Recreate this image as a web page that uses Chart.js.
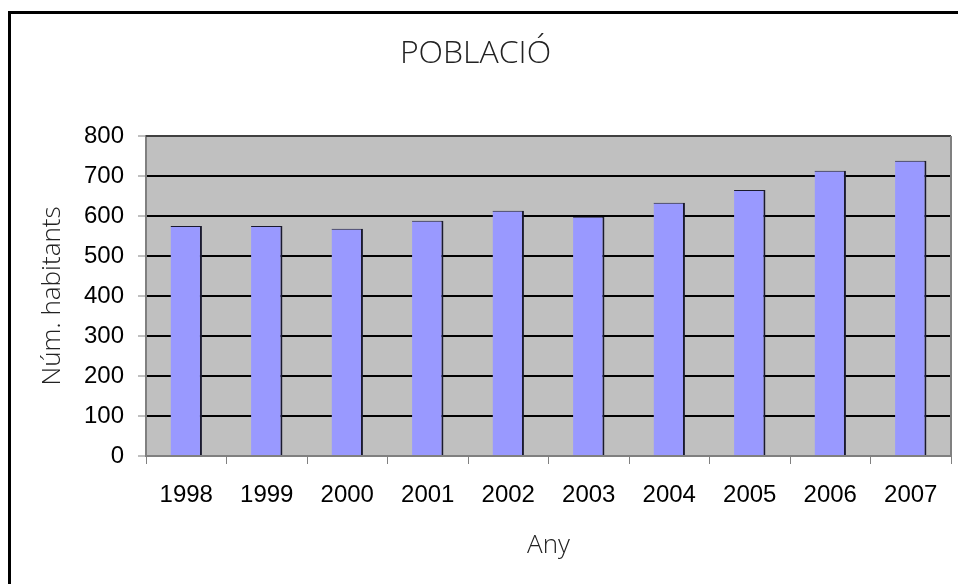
<!DOCTYPE html>
<html>
<head>
<meta charset="utf-8">
<script src="https://cdn.jsdelivr.net/npm/chart.js@4/dist/chart.umd.min.js"></script>
<style>
  html, body { margin: 0; padding: 0; background: #fff; overflow: hidden; }
  canvas { display: block; }
</style>
</head>
<body>
<canvas id="myChart" width="958" height="584"></canvas>
<script>
// dades
var anys = ['1998', '1999', '2000', '2001', '2002', '2003', '2004', '2005', '2006', '2007'];
var habitants = [575, 575, 568, 588, 613, 598, 633, 665, 713, 738];
var yTicks = [0, 100, 200, 300, 400, 500, 600, 700, 800];

var fonsGris = {
    id: 'fonsGris',
    beforeDraw: function (chart) {
        var c = chart.ctx, a = chart.chartArea;
        c.save();
        c.fillStyle = '#fff';
        c.fillRect(0, 0, chart.width, chart.height);
        // marc exterior
        c.strokeStyle = '#000';
        c.lineWidth = 3;
        c.strokeRect(9.5, 12.5, 1000, 1000);
        // area del grafic
        c.fillStyle = '#c0c0c0';
        c.fillRect(a.left, a.top, a.right - a.left, a.bottom - a.top);
        c.restore();
    },
    afterDatasetsDraw: function (chart) {
        var c = chart.ctx, a = chart.chartArea;
        c.save();
        c.strokeStyle = '#404040';
        c.lineWidth = 2;
        c.beginPath();
        c.moveTo(a.left, a.top);
        c.lineTo(a.right, a.top);
        c.stroke();
        c.strokeStyle = '#808080';
        c.beginPath();
        c.moveTo(a.right, a.top);
        c.lineTo(a.right, a.bottom);
        c.stroke();
        c.restore();
    }
};

var ctx = document.getElementById('myChart');
var myChart = new Chart(ctx, {
    type: 'bar',
    data: {
        labels: anys,
        datasets: [{
            label: 'Núm. habitants',
            data: habitants,
            backgroundColor: '#9999ff',
            borderColor: '#1a1a2e',
            borderWidth: { top: 1, right: 2, left: 0, bottom: 0 },
            borderSkipped: false,
            barPercentage: 0.39,
            categoryPercentage: 1
        }]
    },
    options: {
        responsive: false,
        animation: false,
        devicePixelRatio: 1,
        layout: { padding: { left: 0, right: 7, top: 0, bottom: 0 } },
        plugins: {
            legend: { display: false },
            tooltip: { enabled: false },
            title: {
                display: true,
                text: 'POBLACIÓ',
                color: '#222',
                font: { family: 'Open Sans', size: 32, weight: '300' },
                padding: { top: 35, bottom: 62.6 }
            }
        },
        scales: {
            x: {
                afterFit: function (s) { s.height = 128; },
                grid: { drawOnChartArea: false, color: '#808080', tickLength: 8, offset: true },
                border: { color: '#808080', width: 2 },
                ticks: { color: '#000', padding: 17, font: { family: 'Liberation Sans', size: 24 } },
                title: {
                    display: true,
                    text: 'Any',
                    color: '#222',
                    font: { family: 'Open Sans', size: 26, weight: '300' },
                    padding: { top: 0, bottom: 23 }
                }
            },
            y: {
                min: 0,
                max: 800,
                afterFit: function (s) { s.width = 146; },
                afterBuildTicks: function (s) { s.ticks = yTicks.map(function (v) { return { value: v }; }); },
                grid: {
                    color: function (c) { return c.tick && c.tick.value === 0 ? '#808080' : '#000'; },
                    lineWidth: 2,
                    tickColor: '#808080',
                    tickWidth: 1,
                    tickLength: 8
                },
                border: { color: '#808080', width: 2 },
                ticks: { color: '#000', padding: 14, font: { family: 'Liberation Sans', size: 24 } },
                title: {
                    display: true,
                    text: 'Núm. habitants',
                    color: '#222',
                    font: { family: 'Open Sans', size: 26, weight: '300' },
                    padding: { top: 37, bottom: 0 }
                }
            }
        }
    },
    plugins: [fonsGris]
});
</script>
</body>
</html>
